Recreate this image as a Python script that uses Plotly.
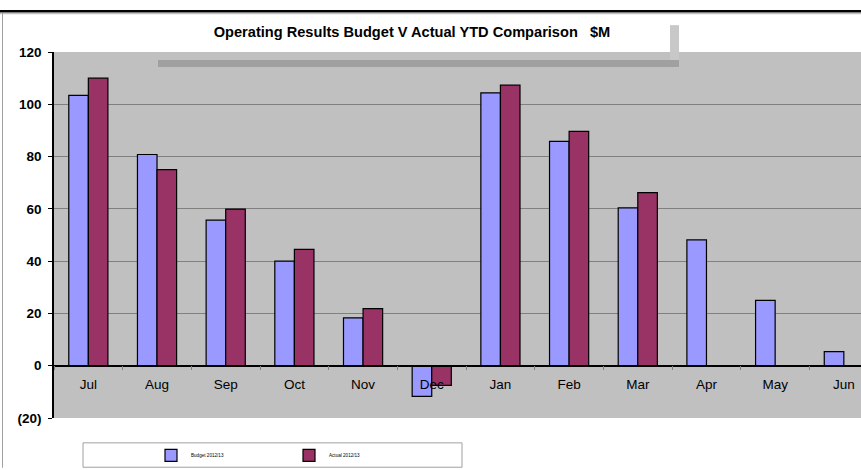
import plotly.graph_objects as go

months = ["Jul", "Aug", "Sep", "Oct", "Nov", "Dec", "Jan", "Feb", "Mar", "Apr", "May", "Jun"]
budget = [103.4, 80.8, 55.7, 40.0, 18.3, -11.7, 104.4, 85.8, 60.4, 48.1, 25.0, 5.4]
actual = [110.0, 75.0, 59.9, 44.5, 21.8, -7.5, 107.3, 89.6, 66.2, None, None, None]
budget_name = "Budget 2012/13"
actual_name = "Actual 2012/13"
title_text = "Operating Results Budget V Actual YTD Comparison\u00a0\u00a0\u00a0$M"
y_tickvals = [-20, 0, 20, 40, 60, 80, 100, 120]
y_ticktext = ["(20)", "0", "20", "40", "60", "80", "100", "120"]

W, H = 861, 470
L, T, B = 54, 52, 420  # plot area pixel bounds
PW = W - L
PH = B - T


def px(x):
    return (x - L) / PW


def py(y):
    return (B - y) / PH


fig = go.Figure()
fig.add_trace(go.Bar(x=months, y=budget, name=budget_name,
                     marker=dict(color="#9999FF", line=dict(color="#000000", width=1.2))))
fig.add_trace(go.Bar(x=months, y=actual, name=actual_name,
                     marker=dict(color="#993366", line=dict(color="#000000", width=1.2))))

shapes = [
    # title box shadow
    dict(type="rect", xref="paper", yref="paper", x0=px(670), x1=px(679), y0=py(60), y1=py(25),
         fillcolor="#C8C8C8", line=dict(width=0), layer="below"),
    dict(type="rect", xref="paper", yref="paper", x0=px(158), x1=px(679), y0=py(67), y1=py(60),
         fillcolor="#A0A0A0", line=dict(width=0), layer="below"),
    # chart frame
    dict(type="line", xref="paper", yref="paper", x0=px(0), x1=px(861), y0=py(11), y1=py(11),
         line=dict(color="#000000", width=2.5)),
    dict(type="line", xref="paper", yref="paper", x0=px(0), x1=px(861), y0=py(13.5), y1=py(13.5),
         line=dict(color="#B0B0B0", width=1)),
    dict(type="line", xref="paper", yref="paper", x0=px(2.5), x1=px(2.5), y0=py(13), y1=py(470),
         line=dict(color="#A0A0A0", width=1)),
    # legend box
    dict(type="rect", xref="paper", yref="paper", x0=px(83), x1=px(462), y0=py(469.5), y1=py(445),
         fillcolor="#FFFFFF", line=dict(color="#A0A0A0", width=1), layer="below"),
]

fig.update_layout(
    width=W, height=H,
    margin=dict(l=L, r=0, t=T, b=H - B, pad=0),
    paper_bgcolor="#FFFFFF",
    plot_bgcolor="#C0C0C0",
    barmode="group",
    bargap=0.43,
    bargroupgap=0,
    font=dict(family="Liberation Sans, Arial, sans-serif", color="#000000"),
    title=dict(text=title_text, xref="container", yref="container",
               x=412 / W, y=1 - 32 / H, xanchor="center", yanchor="middle",
               font=dict(size=14.6, weight="bold", color="#000000")),
    showlegend=True,
    legend=dict(orientation="h", x=px(151), y=py(457.5), xanchor="left", yanchor="middle",
                bgcolor="rgba(0,0,0,0)", borderwidth=0, font=dict(size=4.6),
                entrywidth=93, entrywidthmode="pixels", itemwidth=30, traceorder="normal"),
    shapes=shapes,
    xaxis=dict(
        type="category", range=[-0.5, 11.25], anchor="free", position=20 / 140,
        showline=True, linecolor="#000000", linewidth=1.5,
        ticks="outside", tickson="boundaries", ticklen=4, tickcolor="#808080",
        showgrid=False, zeroline=False,
        tickfont=dict(size=13.5, color="#000000"), ticklabelstandoff=6,
    ),
    yaxis=dict(
        range=[-20, 120], tickvals=y_tickvals, ticktext=y_ticktext,
        showline=True, linecolor="#000000", linewidth=1.5,
        ticks="outside", ticklen=4, tickcolor="#000000",
        showgrid=True, gridcolor="#808080", gridwidth=1, zeroline=False,
        tickfont=dict(size=13.5, weight="bold", color="#000000"), ticklabelstandoff=4,
    ),
)

fig.write_html("out.html", config={"displayModeBar": False},
               post_script="document.body.style.margin='0';document.body.style.overflow='hidden';")
